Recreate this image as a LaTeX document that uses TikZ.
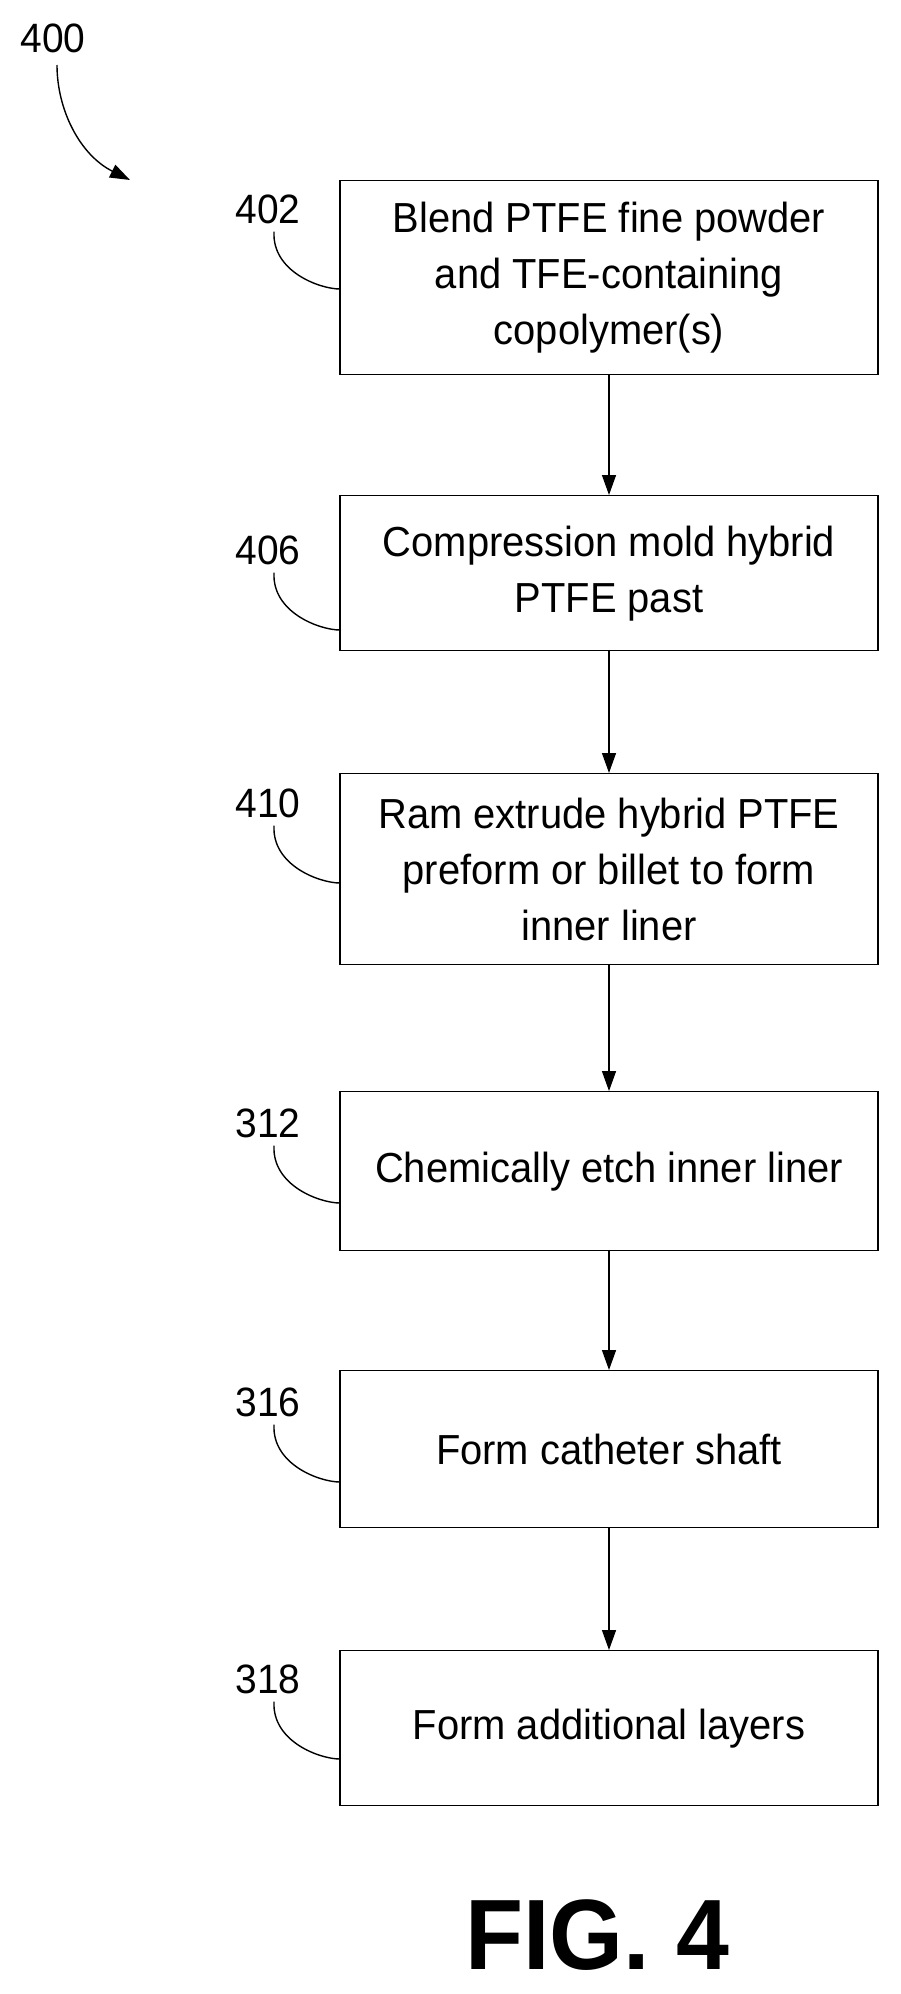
\documentclass[tikz,border=0pt]{standalone}
\usepackage{fontspec}
\setmainfont{Liberation Sans}[FakeStretch=0.95]
\usetikzlibrary{arrows.meta}
\begin{document}
\begin{tikzpicture}[x=1pt,y=-1pt,
  box/.style={draw,line width=1.4pt,minimum width=538pt,anchor=north,align=center,font=\fontsize{42}{56}\selectfont,inner sep=0pt},
  lab/.style={font=\fontsize{41}{44}\selectfont,inner sep=0pt},
  arr/.style={line width=1.4pt,-{Triangle[length=20pt,width=14pt]}},
  lead/.style={line width=1.4pt}]
\useasboundingbox (0,0) rectangle (901,1994);
\node[box,minimum height=194pt] (b1) at (609,180) {Blend PTFE fine powder\\and TFE-containing\\copolymer(s)};
\node[box,minimum height=155pt] (b2) at (609,495) {Compression mold hybrid\\PTFE past};
\node[box,minimum height=191pt] (b3) at (609,773) {Ram extrude hybrid PTFE\\preform or billet to form\\inner liner};
\node[box,minimum height=159pt] (b4) at (609,1091) {Chemically etch inner liner};
\node[box,minimum height=157pt] (b5) at (609,1370) {Form catheter shaft};
\node[box,minimum height=155pt] (b6) at (609,1650) {Form additional layers};
\foreach \a/\b in {b1/b2,b2/b3,b3/b4,b4/b5,b5/b6} \draw[arr] (\a) -- (\b);
\foreach \n/\t/\y in {l1/402/209,l2/406/550,l3/410/803,l4/312/1123,l5/316/1402,l6/318/1679}{
  \node[lab] (\n) at (268,\y) {\t};
  \coordinate (\n e) at (340,\y+80);
  \draw[lead] (\n.south)++(6,8) .. controls +(-2,40) and +(-20,0) .. (\n e);
}
\node[lab] (l0) at (53,38) {400};
\coordinate (a0) at (130,180);
\draw[arr] (57,65) .. controls (57,110) and (80,155) .. (a0);
\node[font=\fontsize{100}{100}\selectfont\bfseries] (fig) at (597,1935) {FIG. 4};
\end{tikzpicture}
\end{document}
